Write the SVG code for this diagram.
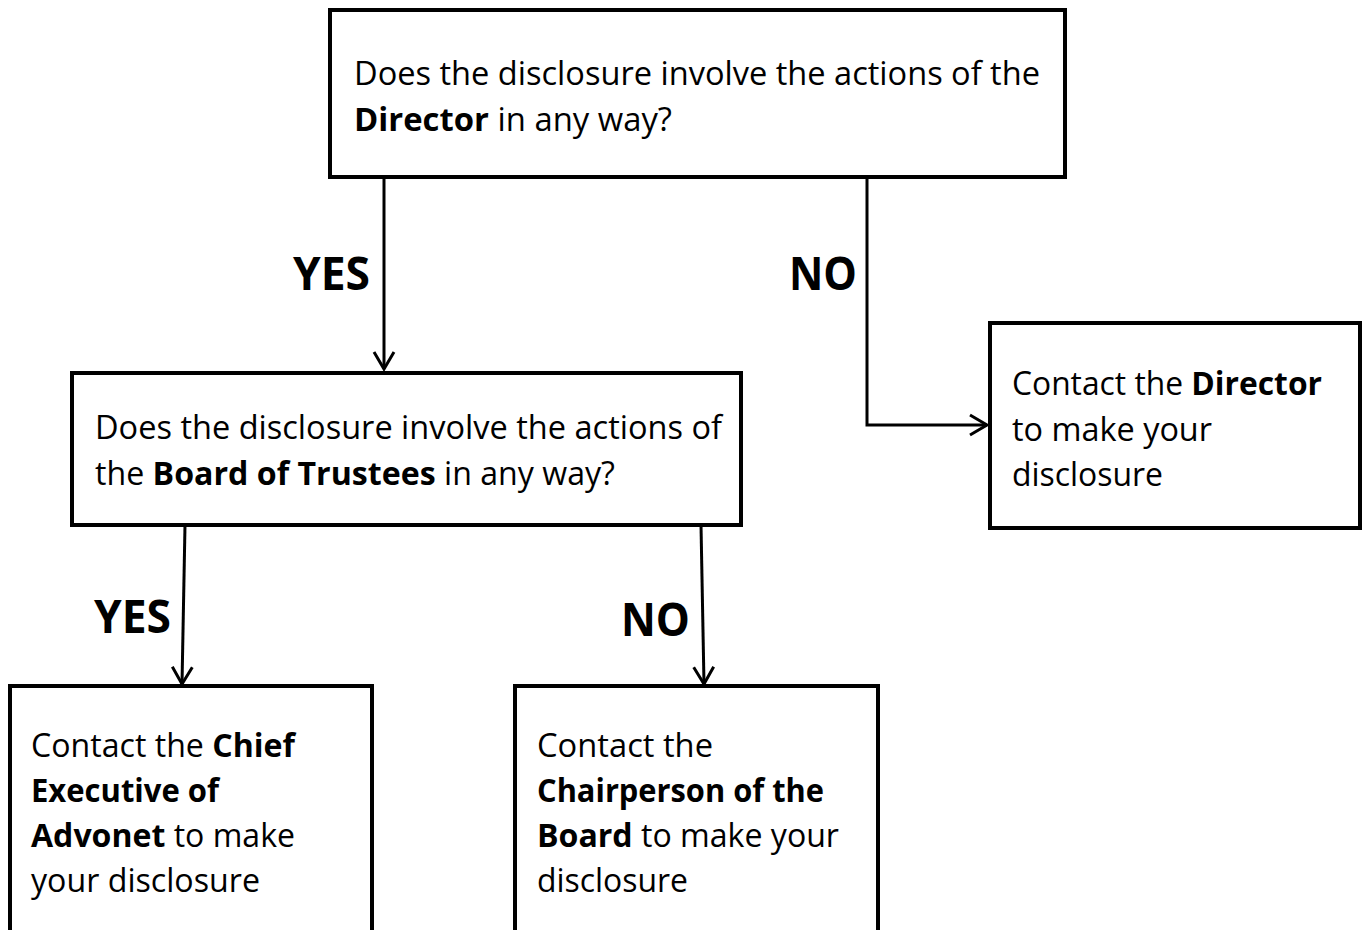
<svg xmlns="http://www.w3.org/2000/svg" width="1362" height="930" viewBox="0 0 1362 930">
<defs>
<style>
.box{fill:#fff;stroke:#000;stroke-width:4}
.t{font-family:"Open Sans","Noto Sans",sans-serif;font-size:33px;fill:#000}
.b{font-weight:bold}
.lbl{font-family:"Open Sans","Noto Sans",sans-serif;font-size:47px;font-weight:bold;fill:#000}
.c{fill:none;stroke:#000;stroke-width:3}
</style>
<marker id="arr" markerUnits="userSpaceOnUse" viewBox="-20 -15 30 30" markerWidth="30" markerHeight="30" refX="0" refY="0" orient="auto">
<path d="M-17,-10 L0,0 L-17,10" fill="none" stroke="#000" stroke-width="3"/>
</marker>
</defs>
<rect width="1362" height="930" fill="#fff"/>
<g id="connectors">
<path class="c" d="M384,177 L384,369" marker-end="url(#arr)"/>
<path class="c" d="M867,177 L867,425 L987,425" marker-end="url(#arr)"/>
<path class="c" d="M185,525 L182,684" marker-end="url(#arr)"/>
<path class="c" d="M701,525 L704,684" marker-end="url(#arr)"/>
<text class="lbl" x="293" y="290" textLength="77" lengthAdjust="spacingAndGlyphs">YES</text>
<text class="lbl" x="789" y="290" textLength="68" lengthAdjust="spacingAndGlyphs">NO</text>
<text class="lbl" x="94" y="633" textLength="77" lengthAdjust="spacingAndGlyphs">YES</text>
<text class="lbl" x="621" y="636" textLength="69" lengthAdjust="spacingAndGlyphs">NO</text>
</g>
<g id="q1">
<rect class="box" x="330" y="10" width="735" height="167"/>
<text class="t" x="354" y="85" textLength="686" lengthAdjust="spacingAndGlyphs">Does the disclosure involve the actions of the</text>
<text class="t" x="354" y="131" textLength="318" lengthAdjust="spacingAndGlyphs"><tspan class="b">Director</tspan> in any way?</text>
</g>
<g id="q2">
<rect class="box" x="72" y="373" width="669" height="152"/>
<text class="t" x="95" y="439" textLength="627" lengthAdjust="spacingAndGlyphs">Does the disclosure involve the actions of</text>
<text class="t" x="95" y="485" textLength="520" lengthAdjust="spacingAndGlyphs">the <tspan class="b">Board of Trustees</tspan> in any way?</text>
</g>
<g id="director">
<rect class="box" x="990" y="323" width="370" height="205"/>
<text class="t" x="1012" y="395" textLength="310" lengthAdjust="spacingAndGlyphs">Contact the <tspan class="b">Director</tspan></text>
<text class="t" x="1012" y="441" textLength="200" lengthAdjust="spacingAndGlyphs">to make your</text>
<text class="t" x="1012" y="486" textLength="151" lengthAdjust="spacingAndGlyphs">disclosure</text>
</g>
<g id="chief">
<rect class="box" x="10" y="686" width="362" height="270"/>
<text class="t" x="31" y="757" textLength="264" lengthAdjust="spacingAndGlyphs">Contact the <tspan class="b">Chief</tspan></text>
<text class="t b" x="31" y="802" textLength="188" lengthAdjust="spacingAndGlyphs">Executive of</text>
<text class="t" x="31" y="847" textLength="264" lengthAdjust="spacingAndGlyphs"><tspan class="b">Advonet</tspan> to make</text>
<text class="t" x="31" y="892" textLength="229" lengthAdjust="spacingAndGlyphs">your disclosure</text>
</g>
<g id="chair">
<rect class="box" x="515" y="686" width="363" height="270"/>
<text class="t" x="537" y="757" textLength="176" lengthAdjust="spacingAndGlyphs">Contact the</text>
<text class="t b" x="537" y="802" textLength="287" lengthAdjust="spacingAndGlyphs">Chairperson of the</text>
<text class="t" x="537" y="847" textLength="302" lengthAdjust="spacingAndGlyphs"><tspan class="b">Board</tspan> to make your</text>
<text class="t" x="537" y="892" textLength="151" lengthAdjust="spacingAndGlyphs">disclosure</text>
</g>
</svg>
